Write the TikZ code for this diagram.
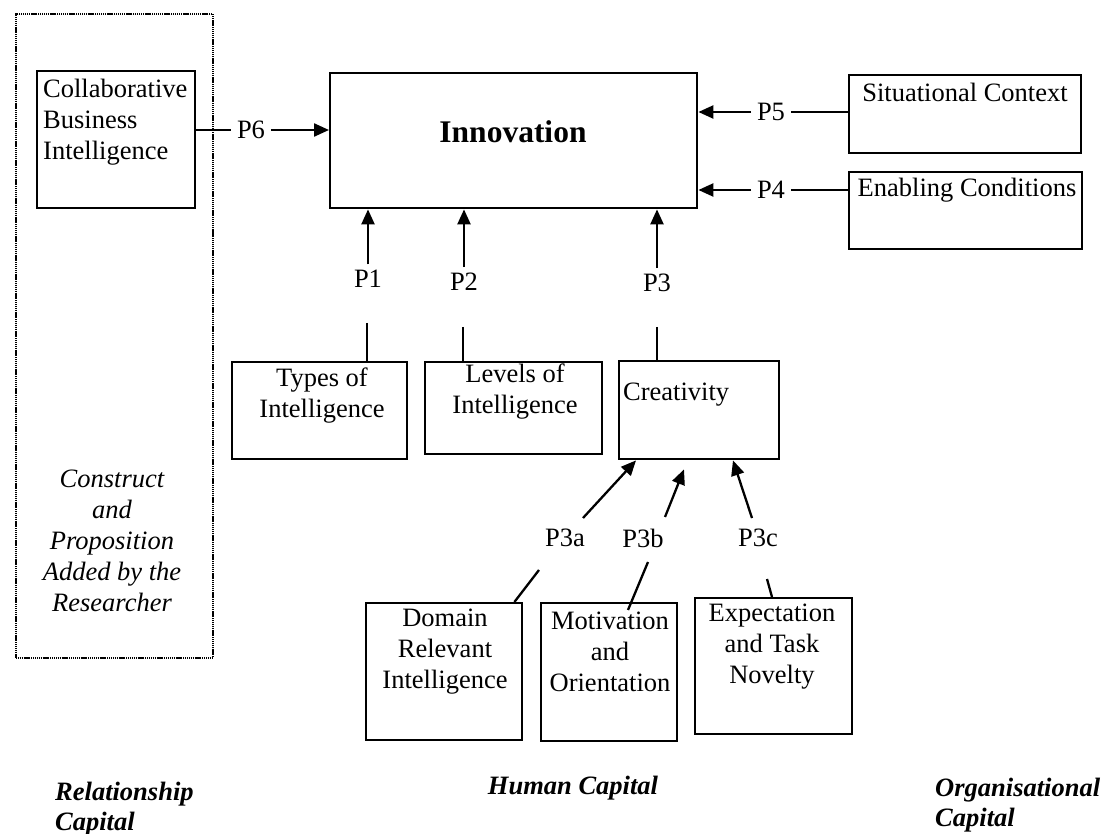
\documentclass[tikz,border=0pt]{standalone}
\usepackage{fontspec}
\setmainfont{Liberation Serif}
\usetikzlibrary{arrows.meta,calc}
\tikzset{
  box/.style={draw, line width=2.4pt, inner sep=0pt, anchor=north west},
  frame/.style={draw, line width=1.8pt, dash pattern=on 1.2pt off 0.7pt, inner sep=0pt, anchor=north west},
  txt/.style={font=\fontsize{26.5}{31}\selectfont, inner sep=0pt, align=center},
  plab/.style={font=\fontsize{26.5}{31}\selectfont, inner sep=0pt, outer sep=6pt},
  capital/.style={font=\fontsize{26.5}{30}\selectfont\bfseries\itshape, inner sep=0pt},
  arr/.style={line width=2.3pt, -{Triangle[length=15pt,width=13pt]}},
  ln/.style={line width=2.3pt},
}
\begin{document}
\begin{tikzpicture}[x=1pt,y=-1pt]
\useasboundingbox (0,0) rectangle (1104,834);

% group frame
\node[frame, minimum width=197pt, minimum height=644pt] (grp) at (15,13) {};

% boxes
\node[box, minimum width=158pt, minimum height=137pt] (collab) at (36,70) {};
\node[box, minimum width=367pt, minimum height=135pt] (innov) at (329,72) {};
\node[box, minimum width=232pt, minimum height=78pt] (sit) at (848,74) {};
\node[box, minimum width=233pt, minimum height=77pt] (enab) at (848,171) {};
\node[box, minimum width=175pt, minimum height=97pt] (types) at (231,361) {};
\node[box, minimum width=177pt, minimum height=92pt] (levels) at (424,361) {};
\node[box, minimum width=160pt, minimum height=98pt] (crea) at (618,360) {};
\node[box, minimum width=156pt, minimum height=137pt] (domain) at (365,602) {};
\node[box, minimum width=136pt, minimum height=138pt] (motiv) at (540,602) {};
\node[box, minimum width=157pt, minimum height=136pt] (expect) at (694,597) {};

% texts
\node[txt, align=left, anchor=west] (collabt) at (43,122) {Collaborative\\Business\\Intelligence};
\node[txt, font=\fontsize{31.5}{36}\selectfont\bfseries] (innovt) at (513,132) {Innovation};
\node[txt] (sitt) at (965,92) {Situational Context};
\node[txt] (enabt) at (967,190) {Enabling Conditions};
\node[txt] (typest) at (322,396) {Types of\\Intelligence};
\node[txt] (levelst) at (515,392) {Levels of\\Intelligence};
\node[txt, anchor=west] (creat) at (623,395) {Creativity};
\node[txt] (domaint) at (445,652) {Domain\\Relevant\\Intelligence};
\node[txt] (motivt) at (610,652) {Motivation\\and\\Orientation};
\node[txt] (expectt) at (772,647) {Expectation\\and Task\\Novelty};
\node[txt, font=\fontsize{26.5}{31}\selectfont\itshape] (constr) at (112,541) {Construct\\and\\Proposition\\Added by the\\Researcher};

% capital labels
\node[capital, align=left, anchor=west] (relcap) at (55,809) {Relationship\\Capital};
\node[capital] (humcap) at (573,788) {Human Capital};
\node[capital, align=left, anchor=west] (orgcap) at (935,805) {Organisational\\Capital};

% proposition labels
\node[plab] (p6) at (251,130) {P6};
\node[plab] (p5) at (771,112) {P5};
\node[plab] (p4) at (771,190) {P4};
\node[plab] (p1) at (368,279) {P1};
\node[plab] (p2) at (464,282) {P2};
\node[plab] (p3) at (657,283) {P3};
\node[plab] (p3a) at (565,538) {P3a};
\node[plab] (p3b) at (643,538) {P3b};
\node[plab] (p3c) at (758,538) {P3c};

% P6
\draw[ln] (p6.west -| collab.east) -- (p6.west);
\draw[arr] (p6.east) -- (p6.east -| innov.west);
% P5, P4
\draw[arr] (p5.west) -- (p5.west -| innov.east);
\draw[ln] (p5.east) -- (p5.east -| sit.west);
\draw[arr] (p4.west) -- (p4.west -| innov.east);
\draw[ln] (p4.east) -- (p4.east -| enab.west);
% P1, P2, P3
\draw[arr] (p1.north) -- (p1.north |- innov.south);
\draw[arr] (p2.north) -- (p2.north |- innov.south);
\draw[arr] (p3.north) -- (p3.north |- innov.south);
\coordinate (q1) at (367,323);
\coordinate (q2) at (463,327);
\coordinate (q3) at (657,327);
\draw[ln] (q1) -- (q1 |- types.north);
\draw[ln] (q2) -- (q2 |- levels.north);
\draw[ln] (q3) -- (q3 |- crea.north);
% P3a, P3b, P3c
\coordinate (t3a) at (583,518);
\coordinate (t3b) at (665,517);
\coordinate (t3c) at (752,518);
\draw[arr] (t3a) -- ($(crea.south west)+(18,0)$);
\draw[arr] (t3b) -- ($(crea.south west)+(66,9)$);
\draw[arr] (t3c) -- ($(crea.south west)+(115,0)$);
\coordinate (u3a) at (539,570);
\coordinate (u3b) at (648,562);
\coordinate (u3c) at (767,579);
\draw[ln] (u3a) -- ($(domain.north east)+(-9,0)$);
\draw[ln] (u3b) -- ($(motiv.north west)+(88,8)$);
\draw[ln] (u3c) -- ($(expect.north west)+(78,0)$);
\end{tikzpicture}
\end{document}
